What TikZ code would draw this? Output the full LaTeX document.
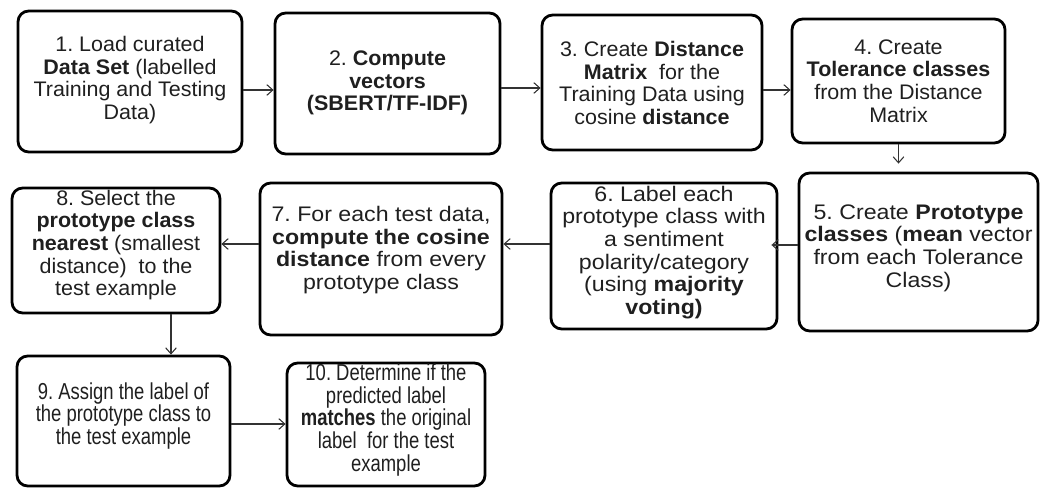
\documentclass[tikz,border=0pt]{standalone}
\usepackage{fontspec}
\setmainfont{Liberation Sans}
\newfontfamily\fnorm[FakeStretch=1.02]{Liberation Sans}
\newfontfamily\fwide[FakeStretch=1.1]{Liberation Sans}
\newfontfamily\fnarrow[FakeStretch=0.8]{Liberation Sans}
\usetikzlibrary{arrows.meta}
\frenchspacing
\begin{document}
\begin{tikzpicture}[x=0.75pt,y=-0.75pt,
  box/.style={draw=black,line width=2.1pt,rounded corners=8pt,inner sep=0pt},
  txt/.style={align=center,inner sep=0pt,text=black!88,font=\fnorm\fontsize{15.8}{17}\selectfont},
  wide/.style={font=\fwide\fontsize{15.8}{17}\selectfont},
  narrow/.style={font=\fnarrow\fontsize{17.3}{17}\selectfont},
  arr/.style={draw=black!80,line width=0.8pt,-{Straight Barb[length=4.5pt,width=8pt]}}]
\useasboundingbox (0,0) rectangle (1041,488);
% boxes
\node[box,minimum width=224*0.75pt,minimum height=141*0.75pt] (b1) at (130,81.5) {};
\node[box,minimum width=225*0.75pt,minimum height=141*0.75pt] (b2) at (387.5,83.5) {};
\node[box,minimum width=220*0.75pt,minimum height=135*0.75pt] (b3) at (652,82.5) {};
\node[box,minimum width=213*0.75pt,minimum height=124*0.75pt] (b4) at (898.5,81) {};
\node[box,minimum width=239*0.75pt,minimum height=158*0.75pt] (b5) at (918.5,252) {};
\node[box,minimum width=226*0.75pt,minimum height=146*0.75pt] (b6) at (664,256) {};
\node[box,minimum width=242*0.75pt,minimum height=152*0.75pt] (b7) at (381,259) {};
\node[box,minimum width=208*0.75pt,minimum height=125*0.75pt] (b8) at (116,250.5) {};
\node[box,minimum width=213*0.75pt,minimum height=130*0.75pt] (b9) at (123.5,421) {};
\node[box,minimum width=198*0.75pt,minimum height=123*0.75pt] (b10) at (386,424.5) {};
% texts
\node[txt] (t1) at (130,80) {1. Load curated\\ \textbf{Data Set} (labelled\\ Training and Testing\\ Data)};
\node[txt] (t2) at (387.5,83) {2. \textbf{Compute}\\ \textbf{vectors}\\ \textbf{(SBERT/TF-IDF)}};
\node[txt] (t3) at (652,83) {3. Create \textbf{Distance}\\ \textbf{Matrix}~ for the\\ Training Data using\\ cosine \textbf{distance}};
\node[txt] (t4) at (898.5,81) {4. Create\\ \textbf{Tolerance classes}\\ from the Distance\\ Matrix};
\node[txt,wide] (t5) at (918.5,248) {5. Create \textbf{Prototype}\\ \textbf{classes} (\textbf{mean} vector\\ from each Tolerance\\ Class)};
\node[txt,wide] (t6) at (664,252.5) {6. Label each\\ prototype class with\\ a sentiment\\ polarity/category\\ (using \textbf{majority}\\ \textbf{voting)}};
\node[txt,wide] (t7) at (381,250) {7. For each test data,\\ \textbf{compute the cosine}\\ \textbf{distance} from every\\ prototype class};
\node[txt] (t8) at (116,245) {8. Select the\\ \textbf{prototype class}\\ \textbf{nearest} (smallest\\ distance)~ to the\\ test example};
\node[txt,narrow] (t9) at (123.5,416) {9. Assign the label of\\ the prototype class to\\ the test example};
\node[txt,narrow] (t10) at (386,420) {10. Determine if the\\ predicted label\\ \textbf{matches} the original\\ label~ for the test\\ example};
% arrows
\draw[arr] (b1.east |- 0,90) -- (b2.west |- 0,90);
\draw[arr] (b2.east |- 0,88) -- (b3.west |- 0,88);
\draw[arr] (b3.east |- 0,90) -- (b4.west |- 0,90);
\draw[arr,shorten >=8*0.75pt] (b4.south) -- (b5.north -| b4.south);
\draw[arr,shorten >=-7*0.75pt] (b5.west |- 0,245) -- (b6.east |- 0,245);
\draw[arr] (b6.west |- 0,244) -- (b7.east |- 0,244);
\draw[arr] (b7.west |- 0,244) -- (b8.east |- 0,244);
\draw[arr] (b8.south -| 171,0) -- (b9.north -| 171,0);
\draw[arr] (b9.east |- 0,424) -- (b10.west |- 0,424);
\end{tikzpicture}
\end{document}
